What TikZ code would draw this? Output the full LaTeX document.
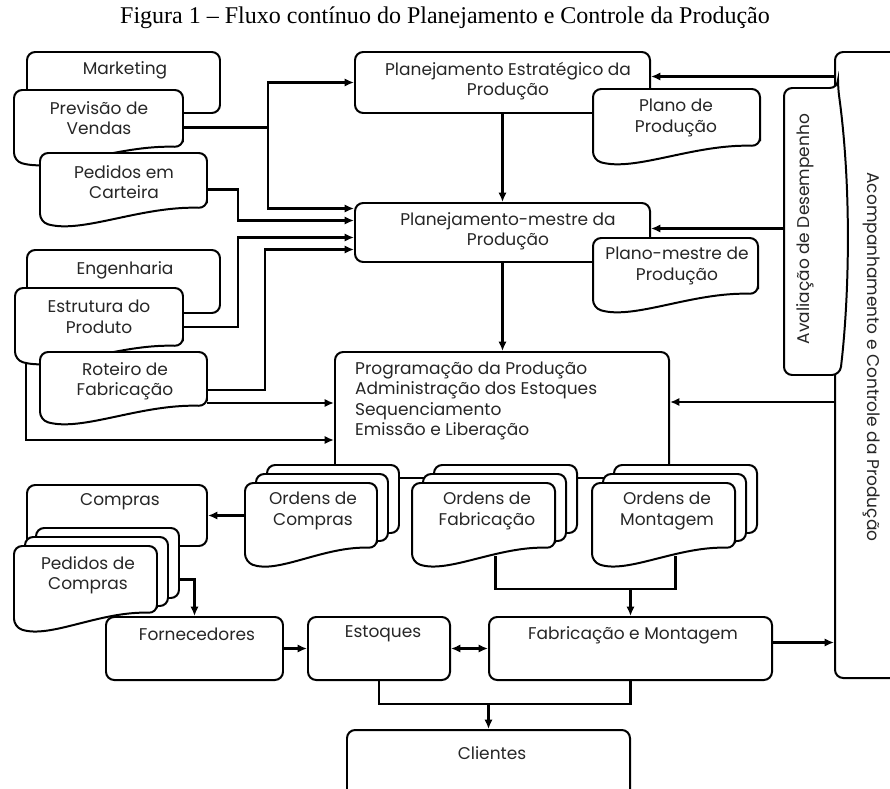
\documentclass[tikz,border=0pt]{standalone}
\usepackage{fontspec}
\setmainfont{Liberation Serif}
\newfontfamily\gotica{Poppins}
\usetikzlibrary{arrows.meta,calc,fit}

\tikzset{
  forma/.style={draw, line width=1.7pt, fill=white, rounded corners=7pt},
  caixa/.style={forma, inner sep=0pt},
  texto/.style={font=\gotica\fontsize{14.5}{17.5}\selectfont, text=black!85, align=center, inner sep=0pt},
  linha/.style={line width=1.8pt},
  seta/.style={linha, -{Latex[length=8pt,width=7pt]}},
  seta2/.style={linha, {Latex[length=8pt,width=7pt]}-{Latex[length=8pt,width=7pt]}}
}

% documento: nome, x1, y1 (topo), x2, y2 (base a esquerda)
\newcommand{\documento}[5]{%
  \draw[forma] (#4,{#5-14}) -- (#4,#3) -- (#2,#3) -- (#2,#5)
    .. controls ({#2+0.25*(#4-#2)},{#5+12}) and ({#2+0.6*(#4-#2)},{#5-16}) .. (#4,{#5-14}) -- cycle;
  \node[fit={(#2,#3) (#4,{#5-14})}, inner sep=0pt] (#1) {};
}
% pilha de documentos (tres folhas)
\newcommand{\pilha}[5]{%
  \draw[forma] ({#2+22},{#3-18}) rectangle ({#4+22},{#5-29});
  \draw[forma] ({#2+11},{#3-9}) rectangle ({#4+11},{#5-21});
  \documento{#1}{#2}{#3}{#4}{#5}
}

\begin{document}
\begin{tikzpicture}[x=0.03cm, y=-0.03cm]
\useasboundingbox (0,0) rectangle (890,789);

% Titulo
\node[font=\fontsize{20.5}{24}\selectfont] (titulo) at (445,18) {Figura 1 – Fluxo contínuo do Planejamento e Controle da Produção};

% Marketing
\node[caixa, fit={(27,52) (220,113)}] (mkt) {};
\documento{prev}{14}{90}{183}{161}
\documento{ped}{40}{153}{207}{222}

% Engenharia
\node[caixa, fit={(27,250) (220,313)}] (eng) {};
\documento{estr}{15}{288}{183}{360}
\documento{rot}{40}{352}{207}{420}

% Planejamento
\node[caixa, fit={(355,52) (650,113)}] (pe) {};
\documento{plano}{593}{89}{760}{160}
\node[caixa, fit={(355,203) (650,262)}] (pm) {};
\documento{plmestre}{593}{238}{758}{308}

% Programacao e ordens
\node[caixa, fit={(335,352) (669,478)}] (prog) {};
\pilha{oc}{245}{483}{377}{562}
\pilha{of}{412}{483}{555}{562}
\pilha{om}{592}{483}{735}{562}

% Compras
\node[caixa, fit={(27,485) (207,546)}] (comp) {};
\pilha{pc}{14}{546}{157}{627}

% Fluxo fisico
\node[caixa, fit={(106,617) (283,680)}] (forn) {};
\node[caixa, fit={(308,617) (450,680)}] (est) {};
\node[caixa, fit={(489,617) (772,680)}] (fab) {};
\node[caixa, fit={(347,730) (630,800)}] (cli) {};

% Acompanhamento e avaliacao
\node[caixa, fit={(835,52) (910,678)}] (acomp) {};
\draw[forma] (838,88) -- (784,88) -- (784,375) -- (840,375) .. controls (849,300) and (852,190) .. (838,88) -- cycle;
\node[fit={(784,88) (838,375)}, inner sep=0pt] (aval) {};

% Textos
\node[texto] (tmkt) at (125,70) {Marketing};
\node[texto] (tprev) at (99,118) {Previsão de\\Vendas};
\node[texto] (tped) at (124,182) {Pedidos em\\Carteira};
\node[texto] (teng) at (125,270) {Engenharia};
\node[texto] (testr) at (99,317) {Estrutura do\\Produto};
\node[texto] (trot) at (125,381) {Roteiro de\\Fabricação};
\node[texto] (tpe) at (508,81) {Planejamento Estratégico da\\Produção};
\node[texto] (tplano) at (676,118) {Plano de\\Produção};
\node[texto] (tpm) at (508,231) {Planejamento-mestre da\\Produção};
\node[texto] (tplmestre) at (677,266) {Plano-mestre de\\Produção};
\node[texto, align=left, anchor=west] (tprog) at (355,401) {Programação da Produção\\Administração dos Estoques\\Sequenciamento\\Emissão e Liberação};
\node[texto] (toc) at (313,511) {Ordens de\\Compras};
\node[texto] (tof) at (487,511) {Ordens de\\Fabricação};
\node[texto] (tom) at (667,511) {Ordens de\\Montagem};
\node[texto] (tcomp) at (120,502) {Compras};
\node[texto] (tpc) at (88,575) {Pedidos de\\Compras};
\node[texto] (tforn) at (197,634) {Fornecedores};
\node[texto] (test) at (383,634) {Estoques};
\node[texto] (tfab) at (633,635) {Fabricação e Montagem};
\node[texto] (tcli) at (492,753) {Clientes};
\node[texto, rotate=90] (taval) at (805,229) {Avaliação de Desempenho};
\node[texto, rotate=-90] (tacomp) at (872,357) {Acompanhamento e Controle da Produção};

% Ligacoes
\draw[linha] ($(prev.east)+(0,9)$) -- ++(85,0) coordinate (jprev);
\draw[seta] (jprev) |- (pe.west);
\draw[seta] (jprev) |- ($(pm.west)+(0,-24)$);
\draw[seta] ($(ped.east)+(0,9)$) -- ++(31,0) |- ($(pm.west)+(0,-12)$);
\draw[seta] ($(estr.east)+(0,10)$) -- ++(55,0) |- ($(pm.west)+(0,5)$);
\draw[seta] ($(rot.east)+(0,11)$) -- ++(58,0) |- ($(pm.west)+(0,17)$);
\draw[seta] ($(rot.east)+(0,24)$) -- ($(prog.west)+(0,-12)$);
\draw[seta] ($(eng.south west)+(0,48)$) |- ($(prog.west)+(0,25)$);
\draw[seta] (pe.south) -- (pm.north);
\draw[seta] (pm.south) -- (pm.south |- prog.north);
\draw[seta] ($(acomp.west |- pe.east)+(0,-6)$) -- ($(pe.east)+(0,-6)$);
\draw[seta] ($(aval.west |- pm.east)+(0,-4)$) -- ($(pm.east)+(0,-4)$);
\draw[seta] ($(acomp.west |- prog.east)+(0,-13)$) -- ($(prog.east)+(0,-13)$);
\draw[seta] (oc.west) -- (comp.east);
\draw[seta] ($(pc.east)+(22,0)$) -| (forn.north);
\draw[seta] (forn.east) -- (est.west);
\draw[seta2] (est.east) -- (fab.west);
\draw[seta] ($(fab.east)+(0,-6)$) -- ($(acomp.west |- fab.east)+(0,-6)$);
\coordinate (jord) at ($(fab.north)+(0,-27)$);
\draw[linha] ($(of.south)+(12,8)$) |- (jord) -| ($(om.south)+(12,8)$);
\draw[seta] (jord) -- (fab.north);
\coordinate (jcli) at ($(cli.north)+(0,-25)$);
\draw[linha] (est.south) |- (jcli) -| (fab.south);
\draw[seta] (jcli) -- (cli.north);

\end{tikzpicture}
\end{document}
